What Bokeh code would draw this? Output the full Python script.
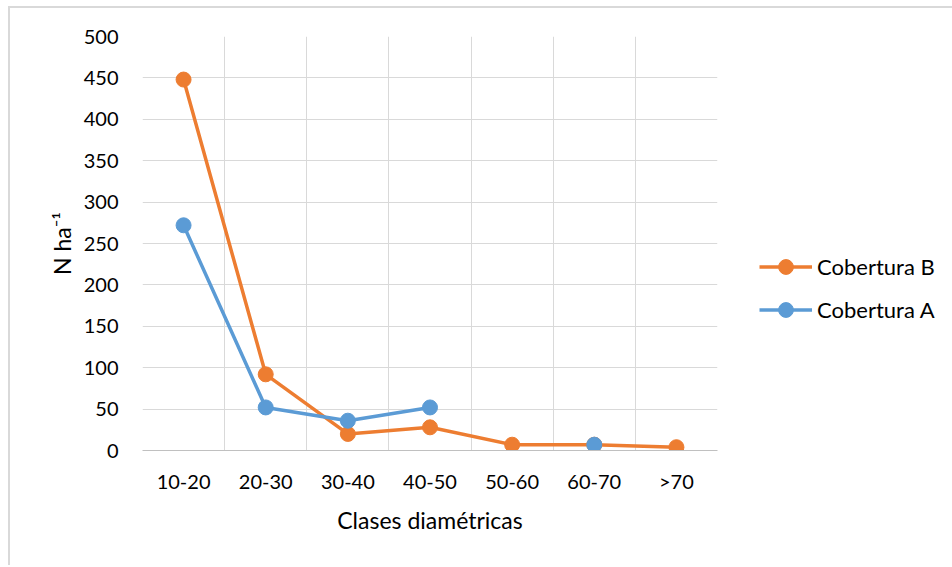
from bokeh.plotting import figure
from bokeh.models import FixedTicker, Legend, LegendItem, ColumnDataSource, Range1d
from bokeh.embed import file_html
from bokeh.resources import INLINE
import numpy as np

categories = ["10-20", "20-30", "30-40", "40-50", "50-60", "60-70", ">70"]
cobertura_b = [448, 92, 20, 28, 7, 7, 4]
cobertura_a = [272, 52, 36, 52, np.nan, 7, np.nan]
y_ticks = [0, 50, 100, 150, 200, 250, 300, 350, 400, 450, 500]

ORANGE = "#ED7D31"
BLUE = "#5B9BD5"
GRID = "#d9d9d9"
FONT = "Lato"

xpos = [i + 0.5 for i in range(len(categories))]

p = figure(width=930, height=559, output_backend="svg", toolbar_location=None,
           x_range=Range1d(0, len(categories)), y_range=Range1d(0, 500),
           frame_width=575, frame_height=414,
           min_border_left=132, min_border_top=28, min_border_right=220, min_border_bottom=115)
p.styles = {"border-top": "2px solid #d9d9d9", "border-left": "2px solid #d9d9d9",
            "margin-left": "8px", "margin-top": "6px"}
p.outline_line_color = None
p.background_fill_color = "white"
p.border_fill_color = "white"

# grid
p.xgrid.ticker = FixedTicker(ticks=list(range(len(categories) + 1)))
p.ygrid.ticker = FixedTicker(ticks=y_ticks)
p.xgrid.grid_line_color = GRID
p.ygrid.grid_line_color = GRID
p.xgrid.grid_line_width = 1
p.ygrid.grid_line_width = 1

# axes
p.xaxis.ticker = FixedTicker(ticks=xpos)
p.xaxis.major_label_overrides = {x: c for x, c in zip(xpos, categories)}
p.yaxis.ticker = FixedTicker(ticks=y_ticks)
for ax in (p.xaxis[0], p.yaxis[0]):
    ax.major_tick_line_color = None
    ax.minor_tick_line_color = None
    ax.major_label_text_font = FONT
    ax.major_label_text_font_size = "20px"
    ax.major_label_text_color = "#000000"
    ax.axis_label_text_font = FONT
    ax.axis_label_text_font_style = "normal"
    ax.axis_label_text_color = "#000000"
p.yaxis.axis_line_color = None
p.xaxis.axis_line_color = "#c0c0c0"
p.xaxis.axis_line_width = 1
p.yaxis.major_label_standoff = 18
p.xaxis.major_label_standoff = 12
p.xaxis.axis_label = "Clases diamétricas"
p.xaxis.axis_label_text_font_size = "23px"
p.xaxis.axis_label_standoff = 10
p.yaxis.axis_label = "N ha\u207b\u00b9"
p.yaxis.axis_label_text_font_size = "23px"
p.yaxis.axis_label_standoff = 5

src = ColumnDataSource(dict(x=xpos, b=cobertura_b, a=cobertura_a))

lb = p.line("x", "b", source=src, line_color=ORANGE, line_width=3.5)
sb = p.scatter("x", "b", source=src, size=15, fill_color=ORANGE, line_color=ORANGE)
la = p.line("x", "a", source=src, line_color=BLUE, line_width=3.5)
sa = p.scatter("x", "a", source=src, size=15, fill_color=BLUE, line_color=BLUE)

legend = Legend(items=[LegendItem(label="Cobertura B", renderers=[lb, sb]),
                       LegendItem(label="Cobertura A", renderers=[la, sa])],
                location=(42, 122))
legend.border_line_color = None
legend.background_fill_alpha = 0
legend.margin = 0
legend.padding = 0
legend.spacing = 6
legend.glyph_width = 53
legend.glyph_height = 37
legend.label_height = 37
legend.label_standoff = 5
legend.label_text_font = FONT
legend.label_text_font_size = "22px"
legend.label_text_color = "#000000"
p.add_layout(legend, "right")

open("out.html", "w").write(file_html(p, INLINE))
